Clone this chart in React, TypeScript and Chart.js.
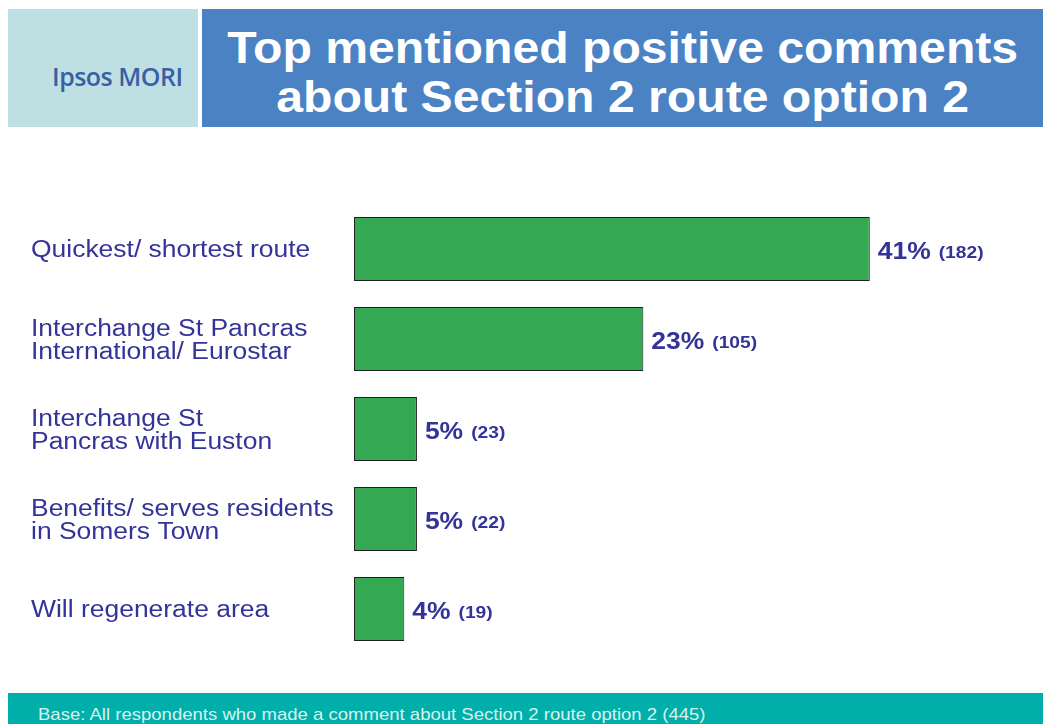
import React, { useEffect, useRef } from "react";
import { Chart, registerables } from "chart.js";

Chart.register(...registerables);

const categories: string[][] = [
  ["Quickest/ shortest route"],
  ["Interchange St Pancras", "International/ Eurostar"],
  ["Interchange St", "Pancras with Euston"],
  ["Benefits/ serves residents", "in Somers Town"],
  ["Will regenerate area"],
];
const percentages: number[] = [41, 23, 5, 5, 4];
const counts: number[] = [182, 105, 23, 22, 19];

const TEXT_BLUE = "#333399";
const FONT = "'Liberation Sans', Arial, sans-serif";
const STRETCH = 1.15;

const labelPlugin = {
  id: "stretchedLabels",
  afterDatasetsDraw(chart: any) {
    const ctx = chart.ctx;
    const yScale = chart.scales.y;
    const meta = chart.getDatasetMeta(0);
    ctx.save();
    ctx.fillStyle = TEXT_BLUE;
    ctx.textBaseline = "middle";
    ctx.textAlign = "left";
    // category labels
    const lineH = 23;
    categories.forEach((lines, i) => {
      const cy = yScale.getPixelForValue(i);
      const startY = cy - ((lines.length - 1) * lineH) / 2 + 2;
      ctx.font = `23px ${FONT}`;
      lines.forEach((ln, j) => {
        ctx.save();
        ctx.translate(31, startY + j * lineH);
        ctx.scale(STRETCH, 1);
        ctx.fillText(ln, 0, 0);
        ctx.restore();
      });
    });
    // value labels
    meta.data.forEach((bar: any, i: number) => {
      ctx.save();
      ctx.translate(bar.x + 8, bar.y + 4);
      ctx.scale(1.15, 1);
      ctx.font = `bold 23px ${FONT}`;
      const main = `${percentages[i]}%`;
      ctx.fillText(main, 0, 0);
      const w = ctx.measureText(main).width;
      ctx.scale(1.2 / 1.15, 1);
      ctx.font = `bold 16px ${FONT}`;
      ctx.fillText(`(${counts[i]})`, (w * 1.15 + 8) / 1.2, 1);
      ctx.restore();
    });
    ctx.restore();
  },
};

export default function App() {
  const canvasRef = useRef<HTMLCanvasElement | null>(null);

  useEffect(() => {
    if (!canvasRef.current) return;
    const chart = new Chart(canvasRef.current, {
      type: "bar",
      data: {
        labels: categories,
        datasets: [
          {
            data: percentages,
            backgroundColor: "#34A853",
            borderColor: "#1f1f1f",
            borderWidth: 1,
            borderSkipped: false,
            barPercentage: 0.71,
            categoryPercentage: 1,
          },
        ],
      },
      options: {
        indexAxis: "y",
        animation: false,
        responsive: false,
        maintainAspectRatio: false,
        layout: { padding: { left: 31, right: 60, top: 64, bottom: 26 } },
        plugins: {
          legend: { display: false },
          tooltip: { enabled: false },
          title: { display: false },
        },
        scales: {
          x: {
            display: false,
            min: 0,
            max: 50,
          },
          y: {
            grid: { display: false, drawTicks: false },
            border: { display: false },
            ticks: { display: false },
            afterFit(scale: any) {
              scale.width = 323;
            },
          },
        },
      },
      plugins: [labelPlugin],
    });
    return () => chart.destroy();
  }, []);

  return (
    <div
      style={{
        position: "absolute",
        left: 0,
        top: 0,
        width: 1043,
        height: 724,
        overflow: "hidden",
        background: "#ffffff",
        fontFamily: FONT,
      }}
    >
      <div
        style={{
          position: "absolute",
          left: 8,
          top: 9,
          width: 190,
          height: 118,
          background: "#BFE0E3",
        }}
      >
        <div
          style={{
            position: "absolute",
            left: 44,
            top: 55,
            fontFamily: "'Open Sans', sans-serif",
            fontWeight: 600,
            fontSize: 25,
            lineHeight: "25px",
            color: "#3A5FA3",
            letterSpacing: -0.5,
            whiteSpace: "nowrap",
          }}
        >
          Ipsos MORI
        </div>
      </div>
      <div
        style={{
          position: "absolute",
          left: 202,
          top: 9,
          width: 841,
          height: 118,
          background: "#4A82C4",
          color: "#ffffff",
          display: "flex",
          alignItems: "center",
          justifyContent: "center",
          textAlign: "center",
          boxSizing: "border-box",
          paddingTop: 8,
        }}
      >
        <div
          style={{
            fontFamily: FONT,
            fontWeight: 700,
            fontSize: 45,
            lineHeight: "49px",
            transform: "scaleX(1.07)",
            whiteSpace: "nowrap",
          }}
        >
          Top mentioned positive comments
          <br />
          about Section 2 route option 2
        </div>
      </div>
      <canvas
        ref={canvasRef}
        width={1043}
        height={540}
        style={{ position: "absolute", left: 0, top: 140, width: 1043, height: 540 }}
      />
      <div
        style={{
          position: "absolute",
          left: 8,
          top: 693,
          width: 1035,
          height: 31,
          background: "#00AFA9",
        }}
      >
        <div
          style={{
            position: "absolute",
            left: 30,
            top: 12,
            fontFamily: FONT,
            fontSize: 17,
            lineHeight: "20px",
            color: "#D8F2EF",
            whiteSpace: "nowrap",
            transform: "scaleX(1.09)",
            transformOrigin: "left center",
          }}
        >
          Base: All respondents who made a comment about Section 2 route option 2 (445)
        </div>
      </div>
    </div>
  );
}
